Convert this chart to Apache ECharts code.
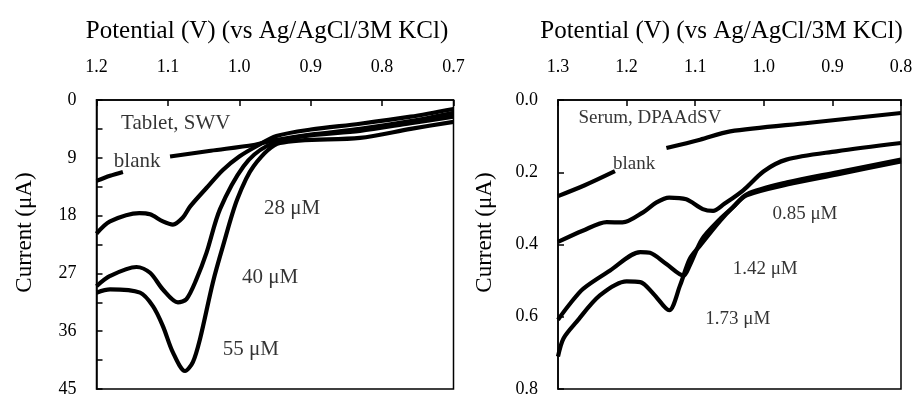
<!DOCTYPE html>
<html>
<head>
<meta charset="utf-8">
<script src="https://cdn.jsdelivr.net/npm/echarts@6/dist/echarts.min.js"></script>
<style>
html,body{margin:0;padding:0;background:#fff;}
#chart{width:916px;height:398px;}
</style>
</head>
<body>
<div id="chart"></div>
<script>
// ---- Data: [potential (V), current (uA)] ----
// Left panel: Tablet, SWV
const tabletBlank = [[1.2,12.6],[1.181,11.8],[1.163,11.2],null,[1.097,8.8],[1.04,7.9],[0.98,7.0],[0.957,6.4],[0.9,5.4],[0.831,4.5],[0.76,3.3],[0.7,2.0]];
const tablet28 = [[1.2,20.8],[1.181,18.9],[1.14,17.6],[1.125,17.8],[1.107,18.9],[1.093,19.4],[1.079,18.3],[1.069,16.6],[1.046,13.7],[1.023,10.9],[1.0,8.8],[0.976,7.2],[0.948,5.6],[0.9,4.6],[0.831,3.7],[0.76,2.6],[0.7,1.4]];
const tablet40 = [[1.2,29.0],[1.181,27.4],[1.144,26.0],[1.125,26.9],[1.107,29.5],[1.086,31.5],[1.074,31.0],[1.06,27.9],[1.046,23.8],[1.027,17.0],[0.994,10.3],[0.962,7.2],[0.915,5.7],[0.831,4.8],[0.76,3.6],[0.7,2.6]];
const tablet55 = [[1.2,30.0],[1.181,29.5],[1.139,30.0],[1.121,32.1],[1.107,35.2],[1.093,39.3],[1.076,42.2],[1.065,40.8],[1.055,37.2],[1.037,28.4],[1.023,22.8],[1.003,15.5],[0.98,10.3],[0.943,6.7],[0.831,5.9],[0.76,4.5],[0.7,3.4]];
// Right panel: Serum, DPAAdSV
const serumBlank = [[1.3,0.266],[1.261,0.236],[1.217,0.197],null,[1.142,0.133],[1.093,0.110],[1.049,0.087],[0.933,0.063],[0.8,0.036]];
const serum085 = [[1.3,0.393],[1.264,0.362],[1.229,0.338],[1.206,0.339],[1.176,0.311],[1.157,0.284],[1.138,0.27],[1.113,0.275],[1.089,0.302],[1.074,0.307],[1.058,0.288],[1.03,0.25],[1.0,0.197],[0.967,0.165],[0.894,0.142],[0.8,0.119]];
const serum142 = [[1.3,0.608],[1.2825,0.564],[1.263,0.522],[1.224,0.472],[1.18,0.421],[1.166,0.423],[1.142,0.454],[1.117,0.486],[1.108,0.458],[1.09,0.385],[1.064,0.330],[1.045,0.297],[1.025,0.261],[0.966,0.228],[0.893,0.2],[0.8,0.165]];
const serum173 = [[1.3,0.71],[1.292,0.66],[1.273,0.614],[1.239,0.541],[1.2,0.502],[1.18,0.504],[1.161,0.536],[1.138,0.582],[1.122,0.513],[1.108,0.44],[1.093,0.403],[1.064,0.335],[1.045,0.297],[1.025,0.264],[0.966,0.234],[0.893,0.206],[0.8,0.17]];

// Axis tick values: [min, max, step]
const tabletXTicks = [0.7, 1.2, 0.1];
const tabletYTicks = [0, 45, 9];
const serumXTicks = [0.8, 1.3, 0.1];
const serumYTicks = [0, 0.8, 0.2];

// Text annotations: [text, potential, current]
const tabletNotes = [['Tablet, SWV',1.089,3.6],['blank',1.143,9.5],['28 μM',0.926,16.9],['40 μM',0.957,27.6],['55 μM',0.984,38.8]];
const serumNotes = [['Serum, DPAAdSV',1.166,0.05],['blank',1.189,0.176],['0.85 μM',0.94,0.316],['1.42 μM',0.998,0.467],['1.73 μM',1.038,0.605]];

const xName = 'Potential (V) (vs Ag/AgCl/3M KCl)';
const yName = 'Current (μA)';
const FONT = 'Liberation Serif';

function xAxis(idx, t){
  return {
    type:'value', gridIndex:idx, position:'top', inverse:true,
    min:t[0], max:t[1], interval:t[2],
    name:xName, nameLocation:'middle', nameGap:56,
    nameTextStyle:{fontFamily:FONT,fontSize:25,color:'#000',padding:[0,16,0,0]},
    axisLine:{show:true,lineStyle:{color:'#000',width:1.5}},
    axisTick:{show:true,inside:true,length:6,lineStyle:{color:'#000',width:1.5}},
    axisLabel:{margin:24,fontFamily:FONT,fontSize:18,color:'#000',formatter:v=>v.toFixed(1)},
    splitLine:{show:false}
  };
}
function yAxis(idx, t, minor, fmt){
  return {
    type:'value', gridIndex:idx, inverse:true,
    min:t[0], max:t[1], interval:t[2],
    name:yName, nameLocation:'middle', nameGap:idx===0?60:62, nameRotate:90,
    nameTextStyle:{fontFamily:FONT,fontSize:23,color:'#000',padding:[0,0,0,24]},
    axisLine:{show:true,lineStyle:{color:'#000',width:1.5}},
    axisTick:{show:true,inside:true,length:6,lineStyle:{color:'#000',width:1.5}},
    minorTick:{show:minor,splitNumber:2,length:6,lineStyle:{color:'#000',width:1.5}},
    axisLabel:{margin:20,fontFamily:FONT,fontSize:18,color:'#000',formatter:fmt},
    splitLine:{show:false}
  };
}
function curve(data, idx){
  return {type:'line', xAxisIndex:idx, yAxisIndex:idx, data:data, showSymbol:false, smooth:0.3,
    connectNulls:false, silent:true, lineStyle:{color:'#000',width:4.2}, itemStyle:{color:'#000'}};
}
function notes(arr, idx, size){
  return {type:'scatter', xAxisIndex:idx, yAxisIndex:idx, symbolSize:0, silent:true,
    data:arr.map(a=>({name:a[0], value:[a[1],a[2]]})),
    label:{show:true, position:'inside', formatter:p=>p.name, fontFamily:FONT, fontSize:size, color:'#000'}};
}

const chart = echarts.init(document.getElementById('chart'), null, {renderer:'canvas'});
chart.setOption({
  animation:false,
  backgroundColor:'#fff',
  grid:[
    {left:96.5, top:100, width:357, height:290, show:true, borderColor:'#000', borderWidth:1.5, backgroundColor:'transparent'},
    {left:558, top:100, width:343, height:291, show:true, borderColor:'#000', borderWidth:1.5, backgroundColor:'transparent'}
  ],
  xAxis:[xAxis(0,tabletXTicks), xAxis(1,serumXTicks)],
  yAxis:[yAxis(0,tabletYTicks,true,v=>String(v)), yAxis(1,serumYTicks,false,v=>v.toFixed(1))],
  series:[
    curve(tabletBlank,0), curve(tablet28,0), curve(tablet40,0), curve(tablet55,0),
    curve(serumBlank,1), curve(serum085,1), curve(serum142,1), curve(serum173,1),
    notes(tabletNotes,0,21), notes(serumNotes,1,19)
  ]
});
</script>
</body>
</html>
